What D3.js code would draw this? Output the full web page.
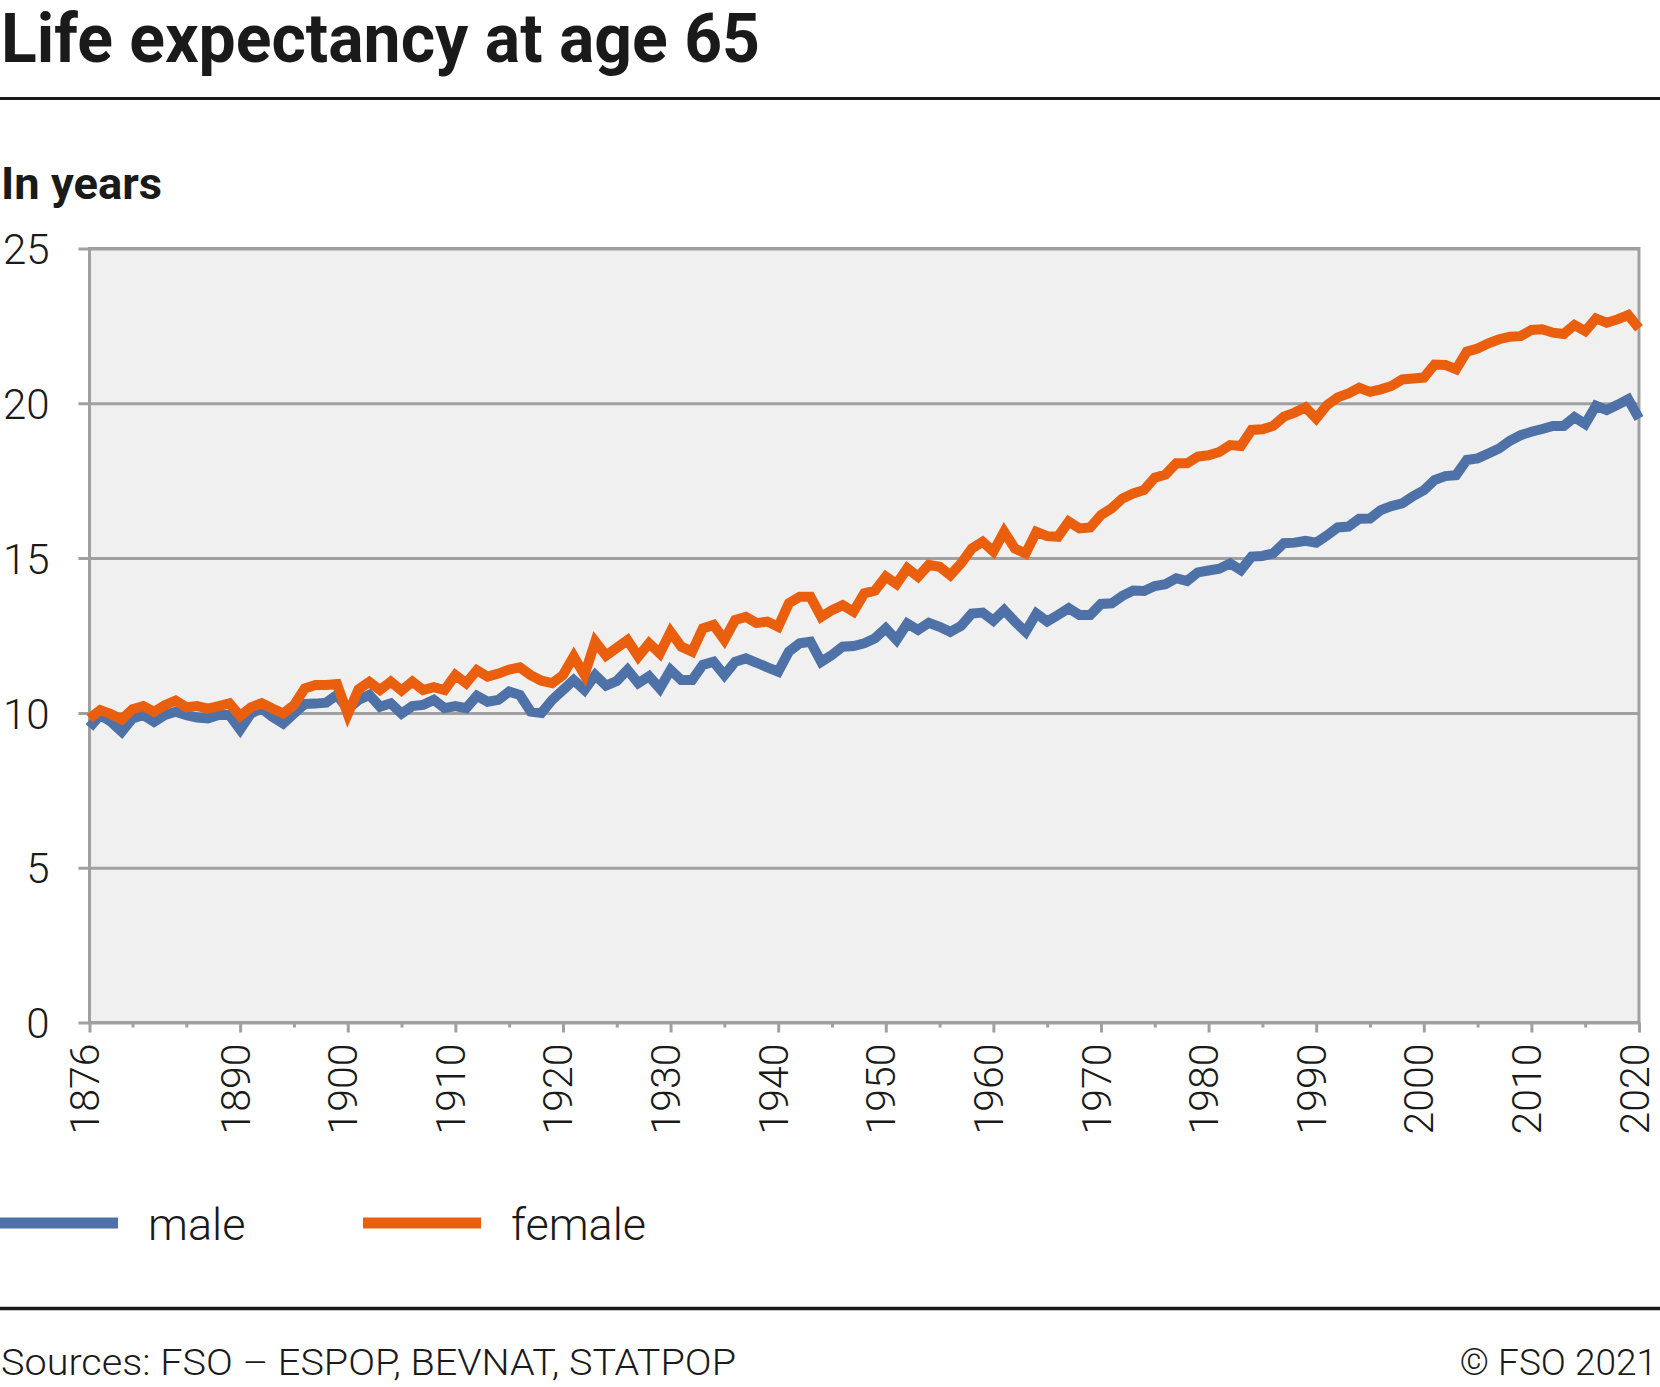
<!DOCTYPE html>
<html><head><meta charset="utf-8">
<script src="https://cdn.jsdelivr.net/npm/d3@7"></script>
<style>
body{margin:0;background:#fff;}
svg{display:block;font-family:Roboto,"Noto Sans",sans-serif;}
</style>
</head><body>
<svg id="chart" width="1660" height="1387"></svg>
<script>
const startYear = 1876, endYear = 2020;
const years = d3.range(startYear, endYear + 1);
const male = [
 9.53, 9.93, 9.71, 9.39, 9.82, 9.93, 9.71, 9.93, 10.04, 9.93,
 9.85, 9.82, 9.93, 9.93, 9.46, 9.98, 10.14, 9.87, 9.66, 9.98,
 10.29, 10.3, 10.33, 10.58, 10.12, 10.42, 10.58, 10.2, 10.31, 9.98,
 10.22, 10.26, 10.42, 10.15, 10.22, 10.15, 10.55, 10.36, 10.42, 10.69,
 10.58, 10.04, 10.0, 10.42, 10.74, 11.06, 10.74, 11.22, 10.88, 11.03,
 11.39, 10.96, 11.18, 10.79, 11.39, 11.06, 11.06, 11.55, 11.65, 11.22,
 11.65, 11.76, 11.62, 11.47, 11.33, 11.98, 12.25, 12.3, 11.65, 11.87,
 12.14, 12.16, 12.25, 12.41, 12.73, 12.36, 12.89, 12.68, 12.91, 12.78,
 12.62, 12.81, 13.21, 13.24, 12.98, 13.32, 12.95, 12.62, 13.21, 12.95,
 13.16, 13.38, 13.16, 13.16, 13.52, 13.54, 13.78, 13.95, 13.94, 14.1,
 14.16, 14.35, 14.26, 14.54, 14.6, 14.66, 14.83, 14.61, 15.05, 15.07,
 15.15, 15.48, 15.5, 15.56, 15.5, 15.73, 15.99, 16.02, 16.27, 16.28,
 16.55, 16.68, 16.77, 17.0, 17.19, 17.52, 17.65, 17.68, 18.17, 18.22,
 18.38, 18.54, 18.79, 18.97, 19.08, 19.17, 19.27, 19.27, 19.55, 19.33,
 19.92, 19.78, 19.95, 20.13, 19.51
];
const female = [
 9.82, 10.09, 9.96, 9.79, 10.12, 10.22, 10.04, 10.25, 10.4, 10.18,
 10.22, 10.14, 10.22, 10.31, 9.9, 10.18, 10.31, 10.14, 9.98, 10.25,
 10.79, 10.9, 10.9, 10.93, 9.96, 10.76, 11.0, 10.74, 11.01, 10.72,
 11.01, 10.74, 10.83, 10.74, 11.22, 10.96, 11.38, 11.17, 11.27, 11.4,
 11.47, 11.22, 11.04, 10.96, 11.22, 11.82, 11.22, 12.3, 11.85, 12.1,
 12.35, 11.82, 12.25, 11.92, 12.62, 12.14, 11.98, 12.73, 12.84, 12.36,
 13.0, 13.1, 12.9, 12.95, 12.78, 13.54, 13.75, 13.75, 13.1, 13.32,
 13.48, 13.27, 13.86, 13.95, 14.4, 14.16, 14.67, 14.4, 14.78, 14.72,
 14.45, 14.83, 15.31, 15.53, 15.21, 15.85, 15.31, 15.15, 15.85, 15.71,
 15.69, 16.18, 15.96, 15.99, 16.39, 16.61, 16.93, 17.09, 17.2, 17.6,
 17.7, 18.06, 18.06, 18.28, 18.32, 18.43, 18.65, 18.62, 19.14, 19.16,
 19.27, 19.57, 19.7, 19.87, 19.51, 19.94, 20.19, 20.32, 20.5, 20.37,
 20.45, 20.56, 20.77, 20.8, 20.83, 21.25, 21.24, 21.1, 21.67, 21.77,
 21.94, 22.07, 22.15, 22.17, 22.37, 22.39, 22.28, 22.24, 22.53, 22.33,
 22.74, 22.6, 22.71, 22.85, 22.42
];
const yTickValues = [0, 5, 10, 15, 20, 25];
const xLabelYears = [1876, 1890, 1900, 1910, 1920, 1930, 1940, 1950, 1960, 1970, 1980, 1990, 2000, 2010, 2020];
const xMinorYears = [1880, 1885, 1895, 1905, 1915, 1925, 1935, 1945, 1955, 1965, 1975, 1985, 1995, 2005, 2015];
const seriesNames = ["male", "female"];
const seriesColors = ["#4e72a7", "#ea5f0d"];
const titleText = "Life expectancy at age 65";
const unitText = "In years";
const sourceText = "Sources: FSO – ESPOP, BEVNAT, STATPOP";
const copyrightText = "© FSO 2021";

const svg = d3.select("#chart");
const textColor = "#1a1a1a", gridColor = "#a0a0a0";
const L = 89.5, R = 1639, T = 248.5, B = 1022.5;

const x = d3.scaleLinear().domain([startYear, endYear]).range([L, R]);
const y = d3.scaleLinear().domain([0, 25]).range([B, T]);

// Title
svg.append("text").attr("x", 1).attr("y", 61.5)
  .attr("font-size", 68).attr("font-weight", 700).attr("fill", textColor)
  .attr("textLength", 759).attr("lengthAdjust", "spacingAndGlyphs")
  .text(titleText);
svg.append("line").attr("x1", 0).attr("x2", 1660).attr("y1", 98.5).attr("y2", 98.5)
  .attr("stroke", textColor).attr("stroke-width", 3);
svg.append("text").attr("x", 1).attr("y", 199)
  .attr("font-size", 44).attr("font-weight", 700).attr("fill", textColor)
  .attr("textLength", 161).attr("lengthAdjust", "spacingAndGlyphs")
  .text(unitText);

// Plot background
svg.append("rect").attr("x", L).attr("y", T).attr("width", R - L).attr("height", B - T)
  .attr("fill", "#f0f0f0");

// Y axis with gridlines
const yAxis = svg.append("g").attr("transform", `translate(${L},0)`)
  .call(d3.axisLeft(y).tickValues(yTickValues).tickSize(-(R - L)).tickPadding(40).tickFormat(d3.format("d")));
yAxis.select(".domain").remove();
yAxis.selectAll(".tick line").attr("x1", -11).attr("stroke", gridColor).attr("stroke-width", 3);
yAxis.selectAll(".tick text").attr("font-size", 42).attr("font-weight", 300)
  .attr("fill", textColor).attr("font-family", "Roboto, sans-serif").attr("dy", "0.36em");

// X axis minor ticks
const xMinor = svg.append("g").attr("transform", `translate(0,${B})`)
  .call(d3.axisBottom(x).tickValues(xMinorYears).tickSize(5).tickFormat(""));
xMinor.select(".domain").remove();
xMinor.selectAll(".tick line").attr("stroke", gridColor).attr("stroke-width", 3);

// X axis major ticks and labels
const xAxis = svg.append("g").attr("transform", `translate(0,${B})`)
  .call(d3.axisBottom(x).tickValues(xLabelYears).tickSize(10).tickFormat(d3.format("d")));
xAxis.select(".domain").remove();
xAxis.selectAll(".tick line").attr("stroke", gridColor).attr("stroke-width", 3);
xAxis.selectAll(".tick text")
  .attr("transform", "rotate(-90)")
  .attr("x", -21).attr("y", 0).attr("dy", "0.22em")
  .attr("text-anchor", "end")
  .attr("font-size", 41).attr("font-weight", 300).attr("fill", textColor)
  .attr("font-family", "Roboto, sans-serif");

// Plot frame
svg.append("rect").attr("x", L).attr("y", T).attr("width", R - L).attr("height", B - T)
  .attr("fill", "none").attr("stroke", gridColor).attr("stroke-width", 3);

// Lines
const line = d3.line().x((d, i) => x(years[i])).y(d => y(d));
[male, female].forEach((s, k) => {
  svg.append("path").datum(s).attr("d", line)
    .attr("fill", "none").attr("stroke", seriesColors[k]).attr("stroke-width", 10)
    .attr("stroke-linejoin", "miter").attr("stroke-miterlimit", 3);
});

// Legend
const legendX = [0, 363];
seriesNames.forEach((name, k) => {
  svg.append("line").attr("x1", legendX[k]).attr("x2", legendX[k] + 118)
    .attr("y1", 1223).attr("y2", 1223)
    .attr("stroke", seriesColors[k]).attr("stroke-width", 11);
  svg.append("text").attr("x", legendX[k] + 148).attr("y", 1240)
    .attr("font-size", 45).attr("font-weight", 300).attr("fill", textColor)
    .text(name);
});

// Footer
svg.append("line").attr("x1", 0).attr("x2", 1660).attr("y1", 1308.5).attr("y2", 1308.5)
  .attr("stroke", textColor).attr("stroke-width", 3.5);
svg.append("text").attr("x", 1).attr("y", 1375)
  .attr("font-size", 37).attr("font-weight", 300).attr("fill", textColor)
  .attr("textLength", 735).attr("lengthAdjust", "spacingAndGlyphs")
  .text(sourceText);
svg.append("text").attr("x", 1657).attr("y", 1375).attr("text-anchor", "end")
  .attr("font-size", 37).attr("font-weight", 300).attr("fill", textColor)
  .text(copyrightText);
</script>
</body></html>
